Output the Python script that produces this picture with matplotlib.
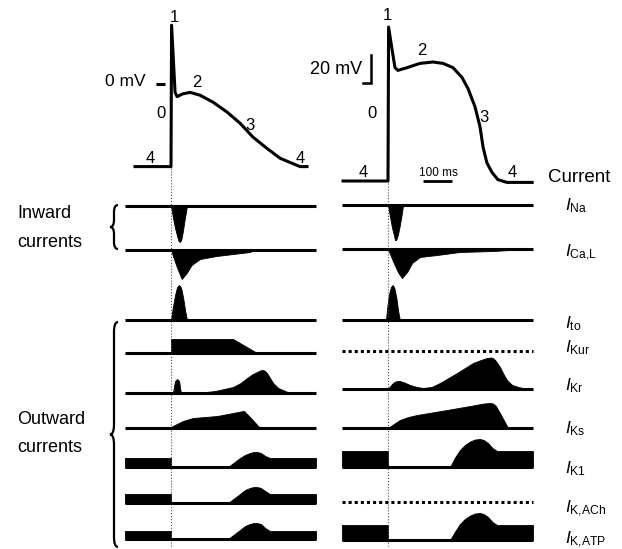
import numpy as np
import matplotlib.pyplot as plt
from matplotlib.path import Path
from matplotlib.patches import PathPatch

plt.rcParams['font.family'] = ['Liberation Sans', 'DejaVu Sans']
plt.rcParams['mathtext.fontset'] = 'custom'
plt.rcParams['mathtext.rm'] = 'Liberation Sans'
plt.rcParams['mathtext.it'] = 'Liberation Sans:italic'

# time in ms from the upstroke, potential in mV, currents in arbitrary units
T_START, T_END = -159, 500

# action potentials
ap_left_t = [-124, 0, 2, 14, 21, 41, 66, 100, 145, 193, 238, 283, 331, 376, 410, 445, 469]
ap_left_v = [-59, -59, 42, -6, -9, -7, -6, -8, -13, -20, -28, -38, -46, -53, -56, -59, -59]
ap_right_t = [-155, 0, 2, 14, 24, 34, 66, 110, 155, 190, 224, 255, 276, 300, 317, 328,
              341, 359, 379, 410, 497]
ap_right_v = [-80, -80, 30, 14, 1, -1, 1, 4, 5, 4, 1, -6, -14, -27, -41, -56,
              -67, -74, -79, -81, -81]

# inward currents (negative = inward)
na_left_t = [0, 7, 14, 21, 26, 31, 36, 41, 48, 55]
na_left_a = [0, -12, -22, -30, -35, -36, -33, -25, -12, 0]
na_right_t = [0, 7, 14, 21, 24, 28, 34, 41, 48, 52]
na_right_a = [0, -12, -23, -31, -35, -35, -30, -20, -8, 0]

cal_left_t = [0, 8, 20, 37, 54, 71, 100, 157, 272, 285]
cal_left_a = [0, -7, -17, -29, -23, -15, -9, -6, -2, 0]
cal_right_t = [0, 17, 34, 48, 66, 83, 110, 169, 248, 362, 479]
cal_right_a = [0, -12, -23, -29, -23, -14, -8, -6, -3, -2, 0]

# outward currents
to_left_t = [0, 6, 14, 21, 28, 35, 42, 49, 55]
to_left_a = [0, 12, 25, 33, 35, 32, 22, 9, 0]
to_right_t = [-7, -3, 3, 10, 16, 22, 29, 35, 41]
to_right_a = [0, 12, 25, 33, 35, 32, 22, 9, 0]

kur_left_t = [0, 0, 214, 297]
kur_left_a = [0, 14, 14, 0]

kr_left_t = [7, 10, 14, 21, 28, 31, 34, 90, 152, 214, 240, 262, 282, 297, 307, 314, 322,
             331, 352, 370, 386, 410]
kr_left_a = [0, 6, 12, 14, 12, 6, 0, 0, 2, 6, 10, 15, 19, 21, 22.5, 23, 22.5,
             20, 10, 5, 3, 0]
kr_right_t = [0, 8, 14, 22, 31, 40, 52, 76, 100, 121, 150, 179, 238, 293, 320, 341, 355,
              362, 372, 386, 400, 410, 428, 450, 479]
kr_right_a = [0, 3, 5, 7, 8, 8, 7, 4, 2, 1, 2, 6, 16, 26, 29, 31, 31.5,
              31, 28, 22, 14, 9, 4, 2, 0]

ks_left_t = [-10, 0, 20, 41, 76, 159, 214, 240, 252, 272, 307]
ks_left_a = [0, 1, 4, 7, 10, 12, 15, 16.5, 17, 11, 0]
ks_right_t = [0, 20, 41, 70, 100, 203, 283, 330, 350, 362, 372, 386, 414]
ks_right_a = [0, 4, 8, 11, 13, 18, 22, 24.5, 25, 24.5, 22, 15, 0]

kblock_left_t = [-159, 0, 0, 197, 215, 238, 255, 272, 285, 297, 310, 325, 341, 500]
k1_left_a = [9, 9, 0, 0, 4, 9, 12, 14, 15, 15, 14, 11, 9, 9]
kach_left_a = [9, 9, 0, 0, 4, 9, 13, 15, 16, 16, 15, 12, 9, 9]
katp_left_a = [8, 8, 0, 0, 4, 9, 13, 15, 16, 16, 15, 11, 8, 8]
kblock_right_t = [-159, 0, 0, 214, 230, 248, 265, 283, 300, 317, 330, 345, 360, 376, 500]
k1_right_a = [16, 16, 0, 0, 9, 17, 22, 25.5, 27.5, 28, 27, 24, 19, 16, 16]
katp_right_a = [15, 15, 0, 0, 8, 16, 21, 24.5, 26.5, 27, 26, 23, 18, 15, 15]

current_labels = [r'$I_{\mathrm{Na}}$', r'$I_{\mathrm{Ca{,}L}}$', r'$I_{\mathrm{to}}$',
                  r'$I_{\mathrm{Kur}}$', r'$I_{\mathrm{Kr}}$', r'$I_{\mathrm{Ks}}$',
                  r'$I_{\mathrm{K1}}$', r'$I_{\mathrm{K{,}ACh}}$', r'$I_{\mathrm{K{,}ATP}}$']

# layout (pixels)
PX_PER_MS = 0.29
PX_PER_MV = 1.4
X0 = {'left': 171, 'right': 388}
ZERO_MV = {'left': 84, 'right': 69}
rows_left = [206, 250, 320, 353, 393, 428, 467, 503, 539]
rows_right = [205, 249, 320, 351, 389, 428, 467, 502, 540]
label_y = [210, 257, 328, 352, 390, 433, 473, 513, 544]
LW = 2.2

fig = plt.figure(figsize=(6.22, 5.49), dpi=100)
ax = fig.add_axes([0, 0, 1, 1])
ax.set_xlim(0, 622)
ax.set_ylim(549, 0)
ax.axis('off')


def to_x(panel, t):
    return X0[panel] + np.asarray(t, dtype=float) * PX_PER_MS


def draw_ap(panel, t, v):
    y = ZERO_MV[panel] - np.asarray(v, dtype=float) * PX_PER_MV
    ax.plot(to_x(panel, t), y, color='k', lw=LW, solid_joinstyle='round')


def draw_current(panel, base, t=None, a=None):
    xs = to_x(panel, [T_START, T_END])
    if t is None:
        ax.plot(xs, [base, base], color='k', lw=LW, ls=(0, (1, 1)),
                dash_capstyle='butt')
        return
    ax.plot(xs, [base, base], color='k', lw=LW, solid_capstyle='butt')
    y = base - np.asarray(a, dtype=float)
    ax.fill_between(to_x(panel, t), base, y, facecolor='k', edgecolor='k', lw=0.6)


def brace(x, top, bottom, w=4, r=8, lw=1.6):
    mid = (top + bottom) / 2
    verts = [(x + w, top), (x, top), (x, top + r),
             (x, mid - r), (x, mid), (x - w, mid),
             (x, mid), (x, mid + r),
             (x, bottom - r), (x, bottom), (x + w, bottom)]
    codes = [Path.MOVETO, Path.CURVE3, Path.CURVE3,
             Path.LINETO, Path.CURVE3, Path.CURVE3,
             Path.CURVE3, Path.CURVE3,
             Path.LINETO, Path.CURVE3, Path.CURVE3]
    ax.add_patch(PathPatch(Path(verts, codes), fill=False, lw=lw, ec='k'))


# action potentials
draw_ap('left', ap_left_t, ap_left_v)
draw_ap('right', ap_right_t, ap_right_v)

# guide lines at the upstroke
ax.plot([X0['left']] * 2, [168, 546], color='0.3', lw=0.8, ls=':')
ax.plot([X0['right']] * 2, [183, 546], color='0.3', lw=0.8, ls=':')

# left column currents
draw_current('left', rows_left[0], na_left_t, na_left_a)
draw_current('left', rows_left[1], cal_left_t, cal_left_a)
draw_current('left', rows_left[2], to_left_t, to_left_a)
draw_current('left', rows_left[3], kur_left_t, kur_left_a)
draw_current('left', rows_left[4], kr_left_t, kr_left_a)
draw_current('left', rows_left[5], ks_left_t, ks_left_a)
draw_current('left', rows_left[6], kblock_left_t, k1_left_a)
draw_current('left', rows_left[7], kblock_left_t, kach_left_a)
draw_current('left', rows_left[8], kblock_left_t, katp_left_a)

# right column currents
draw_current('right', rows_right[0], na_right_t, na_right_a)
draw_current('right', rows_right[1], cal_right_t, cal_right_a)
draw_current('right', rows_right[2], to_right_t, to_right_a)
draw_current('right', rows_right[3])
draw_current('right', rows_right[4], kr_right_t, kr_right_a)
draw_current('right', rows_right[5], ks_right_t, ks_right_a)
draw_current('right', rows_right[6], kblock_right_t, k1_right_a)
draw_current('right', rows_right[7])
draw_current('right', rows_right[8], kblock_right_t, katp_right_a)

# phase numbers
for s, x, y in [('1', 174, 22), ('2', 197, 87), ('0', 161, 118), ('3', 250, 130),
                ('4', 150, 163), ('4', 300, 163)]:
    ax.text(x, y, s, fontsize=12, ha='center', va='baseline')
for s, x, y in [('1', 387, 20), ('2', 422, 55), ('0', 372, 118), ('3', 484, 122),
                ('4', 363, 177), ('4', 512, 177)]:
    ax.text(x, y, s, fontsize=12, ha='center', va='baseline')

# 0 mV marker
ax.text(146, 86, '0 mV', fontsize=12.5, ha='right', va='baseline')
ax.plot([156, 165], [ZERO_MV['left']] * 2, color='k', lw=LW, solid_capstyle='butt')

# scale bars
bar_x = 371
ax.plot([bar_x - 8, bar_x, bar_x], [83, 83, 83 - 20 * PX_PER_MV], color='k', lw=1.8,
        solid_joinstyle='miter')
ax.text(362, 74, '20 mV', fontsize=13, ha='right', va='baseline')
ax.plot([423, 423 + 100 * PX_PER_MS], [181, 181], color='k', lw=2, solid_capstyle='butt')
ax.text(438, 176, '100 ms', fontsize=8.5, ha='center', va='baseline')

# current names
ax.text(548, 182, 'Current', fontsize=13.5, ha='left', va='baseline')
for lab, y in zip(current_labels, label_y):
    ax.text(565, y, lab, fontsize=12.5, ha='left', va='baseline')

# groups
ax.text(17, 218, 'Inward', fontsize=13, ha='left', va='baseline')
ax.text(17, 247, 'currents', fontsize=13, ha='left', va='baseline')
ax.text(17, 424, 'Outward', fontsize=13, ha='left', va='baseline')
ax.text(17, 452, 'currents', fontsize=13, ha='left', va='baseline')
brace(114, 205, 249, w=4, r=7)
brace(114, 322, 547, w=4, r=10)

fig.savefig('out.png', dpi=100)
